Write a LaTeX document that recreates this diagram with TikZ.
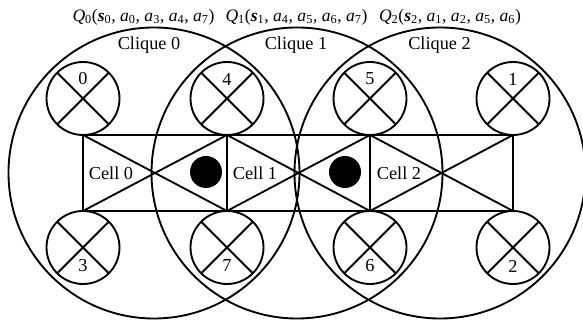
\documentclass[tikz,border=0pt]{standalone}
\usepackage{fontspec}
\setmainfont{Liberation Serif}
\usetikzlibrary{calc}

\newcommand{\cliquelabel}[5]{\textit{Q}\textsubscript{#1}(\textbf{\textit{s}}\textsubscript{#1}, \textit{a}\textsubscript{#2}, \textit{a}\textsubscript{#3}, \textit{a}\textsubscript{#4}, \textit{a}\textsubscript{#5})}

\begin{document}
\begin{tikzpicture}[x=0.3mm, y=-0.3mm, line width=1.6pt,
        font=\fontsize{15.6}{18}\selectfont,
        cricca/.style={circle, draw, minimum size=87.3mm, inner sep=0pt, outer sep=0pt},
        agente/.style={circle, draw, minimum size=21.9mm, inner sep=0pt, outer sep=0pt,
            path picture={\draw (path picture bounding box.north west) -- (path picture bounding box.south east)
                (path picture bounding box.north east) -- (path picture bounding box.south west);}},
        punto/.style={circle, fill=black, minimum size=9.6mm, inner sep=0pt},
        titolo/.style={font=\fontsize{15}{17}\selectfont}]
        \clip (0,0) rectangle (583,322);

        % Cricche
        \node[cricca] (q0) at (154,173) {};
        \node[cricca] (q1) at (297,173) {};
        \node[cricca] (q2) at (440,173) {};

        % Etichette Q
        \node[titolo] (t0) at (143.5,17) {\cliquelabel{0}{0}{3}{4}{7}};
        \node[titolo] (t1) at (296.5,17) {\cliquelabel{1}{4}{5}{6}{7}};
        \node[titolo] (t2) at (450,17) {\cliquelabel{2}{1}{2}{5}{6}};

        % Nomi delle cricche
        \node (k0) at (149,45) {Clique 0};
        \node (k1) at (296,45) {Clique 1};
        \node (k2) at (439.5,45) {Clique 2};

        % Agenti: riga sopra
        \node[agente] (a0) at (83,98.5) {};
        \node[agente] (a4) at (227,98.5) {};
        \node[agente] (a5) at (370,98.5) {};
        \node[agente] (a1) at (513,98.5) {};
        % Agenti: riga sotto
        \node[agente] (a3) at (83,247.5) {};
        \node[agente] (a7) at (227,247.5) {};
        \node[agente] (a6) at (370,247.5) {};
        \node[agente] (a2) at (513,247.5) {};

        % Numeri degli agenti
        \node (n0) at (83,79) {0};
        \node (n4) at (227,79) {4};
        \node (n5) at (370,79) {5};
        \node (n1) at (513,79) {1};
        \node (n3) at (83,266) {3};
        \node (n7) at (227,266) {7};
        \node (n6) at (370,266) {6};
        \node (n2) at (513,266) {2};

        % Celle: bordi
        \draw (a0.south) -- (a1.south);
        \draw (a3.north) -- (a2.north);
        \draw (a0.south) -- (a3.north);
        \draw (a4.south) -- (a7.north);
        \draw (a5.south) -- (a6.north);
        \draw (a1.south) -- (a2.north);

        % Celle: diagonali
        \draw (a0.south) -- (a7.north);
        \draw (a3.north) -- (a4.south);
        \draw (a4.south) -- (a6.north);
        \draw (a7.north) -- (a5.south);
        \draw (a5.south) -- (a2.north);
        \draw (a6.north) -- (a1.south);

        % Nomi delle celle
        \node (c0) at (111,173) {Cell 0};
        \node (c1) at (255,173) {Cell 1};
        \node (c2) at (399,173) {Cell 2};

        % Punti neri
        \node[punto] (p0) at (206,172) {};
        \node[punto] (p1) at (345,172) {};
    \end{tikzpicture}
\end{document}
